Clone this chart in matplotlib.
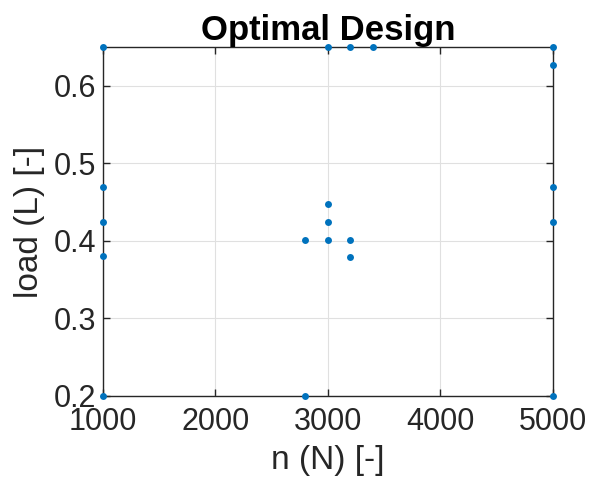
import matplotlib
matplotlib.use("Agg")
import matplotlib.pyplot as plt

plt.rcParams["font.family"] = ["Liberation Sans", "DejaVu Sans"]

# design points: n (N) and load (L)
n_vals = [1000, 3000, 3200, 3400, 5000, 5000,
          1000, 1000, 1000, 5000, 5000,
          3000, 3000, 2800, 3000, 3200, 3200,
          1000, 2800, 5000]
load_vals = [0.65, 0.65, 0.65, 0.65, 0.65, 0.627,
             0.469, 0.424, 0.38, 0.469, 0.424,
             0.447, 0.424, 0.401, 0.401, 0.401, 0.379,
             0.2, 0.2, 0.2]
x_ticks = [1000, 2000, 3000, 4000, 5000]
y_ticks = [0.2, 0.3, 0.4, 0.5, 0.6]

fig = plt.figure(figsize=(5.92, 4.91), dpi=100)
ax = fig.add_axes([0.174, 0.1935, 0.76, 0.711])

ax.plot(n_vals, load_vals, "o", color="#0072BD", markersize=5,
        markeredgewidth=0, clip_on=False, zorder=5)

ax.set_xlim(1000, 5000)
ax.set_ylim(0.2, 0.65)
ax.set_xticks(x_ticks)
ax.set_yticks(y_ticks)
ax.set_yticklabels([f"{v:.1f}" for v in y_ticks])
ax.grid(True, color="#e0e0e0", linewidth=0.8)
ax.set_axisbelow(True)

dark = "#262626"
for s in ax.spines.values():
    s.set_color(dark)
    s.set_linewidth(1.0)
ax.tick_params(direction="in", top=True, right=True, length=5, width=1.0,
               colors=dark, labelsize=22)
ax.tick_params(axis="x", pad=8)
ax.tick_params(axis="y", pad=5)

ax.set_xlabel("n (N) [-]", fontsize=24, color=dark, labelpad=6)
ax.set_ylabel("load (L) [-]", fontsize=24, color=dark, labelpad=6)
ax.set_title("Optimal Design", fontsize=25, fontweight="bold", color="black", pad=5)

fig.savefig("out.png", dpi=100, facecolor="white")
